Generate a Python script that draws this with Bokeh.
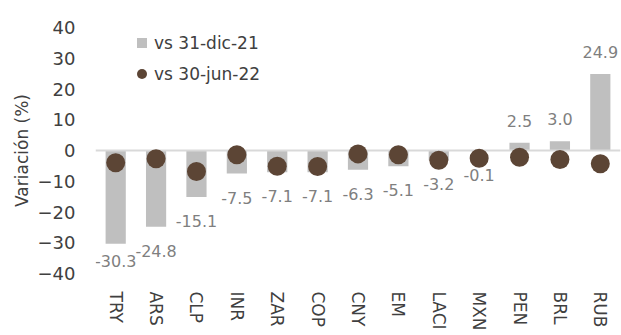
import numpy as np
from bokeh.plotting import figure
from bokeh.models import (ColumnDataSource, Range1d, FactorRange, Span, Legend,
                          LegendItem, FixedTicker)
from bokeh.core.properties import value
from bokeh.embed import file_html
from bokeh.resources import INLINE

categories = ["TRY", "ARS", "CLP", "INR", "ZAR", "COP", "CNY", "EM", "LACI", "MXN", "PEN", "BRL", "RUB"]
vs_dic21 = [-30.3, -24.8, -15.1, -7.5, -7.1, -7.1, -6.3, -5.1, -3.2, -0.1, 2.5, 3.0, 24.9]
vs_jun22 = [-4.0, -2.7, -6.8, -1.4, -5.1, -5.2, -1.1, -1.4, -3.2, -2.5, -2.2, -2.9, -4.3]
y_ticks = [-40, -30, -20, -10, 0, 10, 20, 30, 40]

FONT = "DejaVu Sans"
BAR_C = "#BFBFBF"
DOT_C = "#5C4535"

vals = np.array(vs_dic21)
# Excel keeps data labels inside the plot area: clamp the anchor of very long bars
lab_anchor = np.where(vals < 0, np.maximum(vals, -28.0), vals)
src = ColumnDataSource(dict(
    cat=categories, bar=vs_dic21, dot=vs_jun22,
    lab=[f"{v:.1f}" for v in vs_dic21],
    lab_y=lab_anchor.tolist(),
    yoff=[24 if v < 0 else -22 for v in vs_dic21],
))

p = figure(width=621, height=335, x_range=FactorRange(*categories, range_padding=0),
           y_range=Range1d(-40, 40), output_backend="svg", toolbar_location=None,
           min_border_left=95, min_border_right=1, min_border_top=27, min_border_bottom=62)
p.x_range.range_padding = 0
p.outline_line_color = None
p.xgrid.grid_line_color = None
p.ygrid.grid_line_color = None
p.background_fill_color = "white"
p.border_fill_color = "white"

p.vbar(x="cat", top="bar", bottom=0, width=0.5, source=src, fill_color=BAR_C, line_color=None)
p.add_layout(Span(location=0, dimension="width", line_color="#D9D9D9", line_width=2))
dots = p.scatter(x="cat", y="dot", source=src, size=19, marker="circle",
                 fill_color=DOT_C, line_color=None, level="overlay")

p.text(x="cat", y="lab_y", text="lab", source=src, y_offset="yoff",
       text_align="center", text_baseline="middle", text_font=value(FONT),
       text_font_size="16px", text_color="#7F7F7F")

# legend-only renderers (a single non-drawable point each)
leg_src = ColumnDataSource(dict(x=[np.nan], y=[np.nan]))
leg_sq = p.scatter(x="x", y="y", source=leg_src, marker="square", size=10,
                   fill_color=BAR_C, line_color=None)
leg_dot = p.scatter(x="x", y="y", source=leg_src, marker="circle", size=10,
                    fill_color=DOT_C, line_color=None)
legend = Legend(items=[LegendItem(label="vs 31-dic-21", renderers=[leg_sq]),
                       LegendItem(label="vs 30-jun-22", renderers=[leg_dot])],
                location=(34, 187), padding=0, margin=0, spacing=6,
                glyph_width=25, glyph_height=25, label_height=25, label_standoff=0,
                label_text_font=FONT, label_text_font_size="17px", label_text_color="#404040",
                border_line_color=None, background_fill_alpha=0)
p.add_layout(legend, "center")

ya = p.yaxis[0]
ya.ticker = FixedTicker(ticks=y_ticks)
ya.axis_line_color = None
ya.major_tick_line_color = None
ya.minor_tick_line_color = None
ya.major_tick_out = 0
ya.major_tick_in = 0
ya.minor_tick_out = 0
ya.major_label_standoff = 20
ya.major_label_text_font = FONT
ya.major_label_text_font_size = "18px"
ya.major_label_text_color = "#404040"
ya.axis_label = "Variación (%)"
ya.axis_label_text_font = FONT
ya.axis_label_text_font_size = "17px"
ya.axis_label_text_font_style = "normal"
ya.axis_label_text_color = "#404040"
ya.axis_label_standoff = 3

xa = p.xaxis[0]
xa.axis_line_color = None
xa.major_tick_line_color = None
xa.minor_tick_line_color = None
xa.major_tick_out = 0
xa.major_tick_in = 0
xa.major_label_orientation = "vertical"
xa.major_label_standoff = 18
xa.major_label_text_font = FONT
xa.major_label_text_font_size = "17px"
xa.major_label_text_color = "#404040"

open("out.html", "w").write(file_html(p, INLINE))
